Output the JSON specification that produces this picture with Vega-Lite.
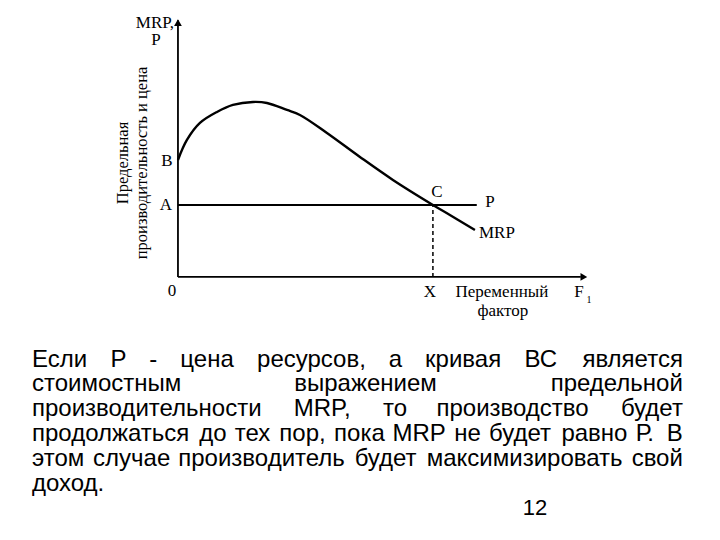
{
  "$schema": "https://vega.github.io/schema/vega-lite/v6.json",
  "width": 720,
  "height": 540,
  "autosize": {"type": "fit", "contains": "padding"},
  "padding": 0,
  "background": "white",
  "config": {"view": {"stroke": null}},
  "datasets": {
    "axes": [
      {"x": 0, "y": 0, "x2": 7.9, "y2": 0},
      {"x": 0, "y": 0, "x2": 0, "y2": 10.7}
    ],
    "arrows": [
      {"x": 7.96, "y": 0, "dir": "right"},
      {"x": 0, "y": 10.6, "dir": "up"}
    ],
    "price": [{"x": 0, "x2": 5.86, "y": 3}],
    "drop": [{"x": 5, "y": 0, "y2": 3}],
    "mrp": [
      {"x": 0, "y": 4.875},
      {"x": 0.176, "y": 5.708},
      {"x": 0.431, "y": 6.417},
      {"x": 0.765, "y": 6.875},
      {"x": 1.078, "y": 7.167},
      {"x": 1.471, "y": 7.292},
      {"x": 1.745, "y": 7.25},
      {"x": 2.137, "y": 6.958},
      {"x": 2.392, "y": 6.75},
      {"x": 2.922, "y": 6.0},
      {"x": 3.569, "y": 5.0},
      {"x": 4.216, "y": 4.042},
      {"x": 5.0, "y": 3.0},
      {"x": 5.333, "y": 2.583},
      {"x": 5.824, "y": 1.958}
    ],
    "labels": [
      {"x": -0.451, "y": 10.6, "label": "MRP,"},
      {"x": -0.431, "y": 9.875, "label": "P"},
      {"x": -0.216, "y": 4.833, "label": "B"},
      {"x": -0.235, "y": 3.0, "label": "A"},
      {"x": -0.118, "y": -0.583, "label": "0"},
      {"x": 5.078, "y": 3.542, "label": "C"},
      {"x": 6.118, "y": 3.125, "label": "P"},
      {"x": 6.255, "y": 1.833, "label": "MRP"},
      {"x": 4.941, "y": -0.625, "label": "X"},
      {"x": 6.353, "y": -0.625, "label": "Переменный"},
      {"x": 6.373, "y": -1.417, "label": "фактор"},
      {"x": 7.863, "y": -0.625, "label": "F"}
    ],
    "sub": [{"x": 8.06, "y": -0.95, "label": "1"}],
    "ytitle": [
      {"x": -1.078, "y": 4.75, "label": "Предельная"},
      {"x": -0.706, "y": 4.75, "label": "производительность и цена"}
    ],
    "words": [
      {"x": -2.863, "y": -3.75, "w": "Если"},
      {"x": -1.325, "y": -3.75, "w": "Р"},
      {"x": -0.561, "y": -3.75, "w": "-"},
      {"x": 0.047, "y": -3.75, "w": "цена"},
      {"x": 1.551, "y": -3.75, "w": "ресурсов,"},
      {"x": 4.135, "y": -3.75, "w": "а"},
      {"x": 4.847, "y": -3.75, "w": "кривая"},
      {"x": 6.796, "y": -3.75, "w": "ВС"},
      {"x": -2.863, "y": -4.75, "w": "стоимостным"},
      {"x": 2.28, "y": -4.75, "w": "выражением"},
      {"x": -2.863, "y": -5.79, "w": "производительности"},
      {"x": 2.271, "y": -5.79, "w": "MRP,"},
      {"x": 4.02, "y": -5.79, "w": "то"},
      {"x": 5.069, "y": -5.79, "w": "производство"},
      {"x": -2.863, "y": -6.83, "w": "продолжаться"},
      {"x": 0.416, "y": -6.83, "w": "до"},
      {"x": 1.114, "y": -6.83, "w": "тех"},
      {"x": 1.988, "y": -6.83, "w": "пор,"},
      {"x": 3.061, "y": -6.83, "w": "пока"},
      {"x": 4.208, "y": -6.83, "w": "MRP"},
      {"x": 5.416, "y": -6.83, "w": "не"},
      {"x": 6.1, "y": -6.83, "w": "будет"},
      {"x": 7.52, "y": -6.83, "w": "равно"},
      {"x": 8.976, "y": -6.83, "w": "Р."},
      {"x": -2.863, "y": -7.875, "w": "этом"},
      {"x": -1.665, "y": -7.875, "w": "случае"},
      {"x": 0.006, "y": -7.875, "w": "производитель"},
      {"x": 3.465, "y": -7.875, "w": "будет"},
      {"x": 4.878, "y": -7.875, "w": "максимизировать"},
      {"x": -2.863, "y": -8.917, "w": "доход."}
    ],
    "lineEnds": [
      {"x": 9.902, "y": -3.75, "w": "является"},
      {"x": 9.902, "y": -4.75, "w": "предельной"},
      {"x": 9.902, "y": -5.79, "w": "будет"},
      {"x": 9.902, "y": -6.83, "w": "В"},
      {"x": 9.902, "y": -7.875, "w": "свой"}
    ],
    "page": [{"x": 7.0, "y": -9.917, "w": "12"}]
  },
  "encoding": {
    "x": {"field": "x", "type": "quantitative", "scale": {"domain": [-3.49, 10.63], "nice": false, "zero": false}, "axis": null},
    "y": {"field": "y", "type": "quantitative", "scale": {"domain": [-10.96, 11.54], "nice": false, "zero": false}, "axis": null}
  },
  "layer": [
    {
      "data": {"name": "axes"},
      "mark": {"type": "rule", "color": "black", "strokeWidth": 1.8},
      "encoding": {"x2": {"field": "x2"}, "y2": {"field": "y2"}}
    },
    {
      "data": {"name": "arrows"},
      "mark": {"type": "point", "filled": true, "color": "black", "opacity": 1, "size": 60},
      "encoding": {
        "shape": {"field": "dir", "type": "nominal", "scale": {"domain": ["right", "up"], "range": ["triangle-right", "triangle-up"]}, "legend": null}
      }
    },
    {
      "data": {"name": "price"},
      "mark": {"type": "rule", "color": "black", "strokeWidth": 2},
      "encoding": {"x2": {"field": "x2"}}
    },
    {
      "data": {"name": "drop"},
      "mark": {"type": "rule", "color": "black", "strokeWidth": 1.5, "strokeDash": [4, 3]},
      "encoding": {"y2": {"field": "y2"}}
    },
    {
      "data": {"name": "mrp"},
      "mark": {"type": "line", "color": "black", "strokeWidth": 2.4, "interpolate": "catmull-rom"},
      "encoding": {}
    },
    {
      "data": {"name": "labels"},
      "mark": {"type": "text", "font": "Liberation Serif", "fontSize": 17, "color": "black", "align": "center", "baseline": "middle"},
      "encoding": {"text": {"field": "label"}}
    },
    {
      "data": {"name": "sub"},
      "mark": {"type": "text", "font": "Liberation Serif", "fontSize": 10, "color": "black", "align": "center", "baseline": "middle"},
      "encoding": {"text": {"field": "label"}}
    },
    {
      "data": {"name": "ytitle"},
      "mark": {"type": "text", "font": "Liberation Serif", "fontSize": 16.5, "color": "black", "align": "center", "baseline": "middle", "angle": 270},
      "encoding": {"text": {"field": "label"}}
    },
    {
      "data": {"name": "words"},
      "mark": {"type": "text", "font": "Liberation Sans", "fontSize": 24, "color": "black", "align": "left", "baseline": "alphabetic"},
      "encoding": {"text": {"field": "w"}}
    },
    {
      "data": {"name": "lineEnds"},
      "mark": {"type": "text", "font": "Liberation Sans", "fontSize": 24, "color": "black", "align": "right", "baseline": "alphabetic"},
      "encoding": {"text": {"field": "w"}}
    },
    {
      "data": {"name": "page"},
      "mark": {"type": "text", "font": "Liberation Sans", "fontSize": 22, "color": "black", "align": "center", "baseline": "alphabetic"},
      "encoding": {"text": {"field": "w"}}
    }
  ]
}
